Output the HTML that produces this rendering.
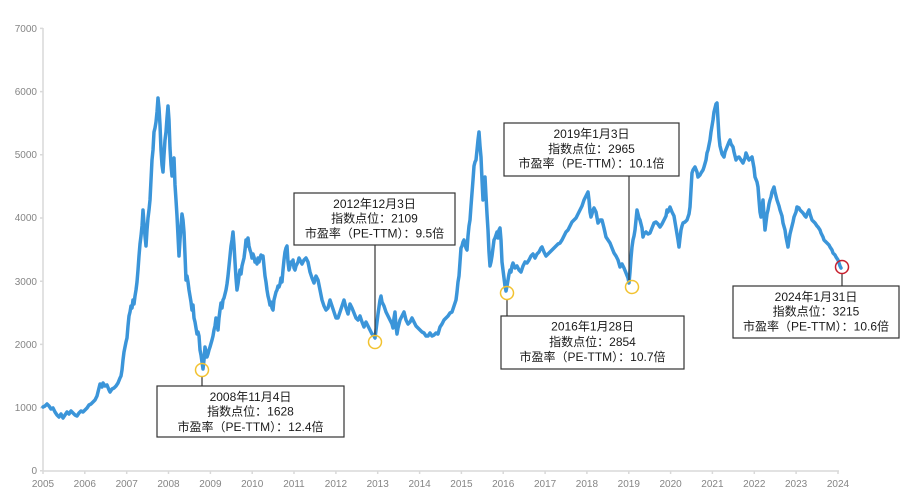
<!DOCTYPE html>
<html><head><meta charset="utf-8">
<style>
html,body{margin:0;padding:0;background:#fff;}
svg{display:block;}
.t{font-family:"Liberation Sans","Noto Sans CJK SC",sans-serif;font-size:10px;fill:#858585;}
.a{font-family:"Liberation Sans","Noto Sans CJK SC",sans-serif;font-size:12px;fill:#1a1a1a;text-anchor:middle;}
</style></head>
<body>
<svg width="918" height="500" viewBox="0 0 918 500" xmlns="http://www.w3.org/2000/svg">
<rect width="918" height="500" fill="#fff"/>
<!-- axes -->
<g stroke="#d9d9d9" stroke-width="1.5" fill="none">
<line x1="43" y1="28" x2="43" y2="471"/>
<line x1="43" y1="471" x2="839" y2="471"/>
<path d="M40 28.4H43M40 91.6H43M40 154.8H43M40 218H43M40 281.2H43M40 344.4H43M40 407.6H43M40 470.8H43"/>
<path d="M43 471V474M84.8 471V474M126.7 471V474M168.5 471V474M210.4 471V474M252.2 471V474M294 471V474M335.9 471V474M377.7 471V474M419.6 471V474M461.4 471V474M503.2 471V474M545.1 471V474M586.9 471V474M628.8 471V474M670.6 471V474M712.4 471V474M754.3 471V474M796.1 471V474M838 471V474"/>
</g>
<g class="t" text-anchor="end">
<text x="37" y="32">7000</text>
<text x="37" y="95">6000</text>
<text x="37" y="158">5000</text>
<text x="37" y="221">4000</text>
<text x="37" y="285">3000</text>
<text x="37" y="348">2000</text>
<text x="37" y="411">1000</text>
<text x="37" y="474">0</text>
</g>
<g class="t" text-anchor="middle">
<text x="43" y="487">2005</text>
<text x="84.8" y="487">2006</text>
<text x="126.7" y="487">2007</text>
<text x="168.5" y="487">2008</text>
<text x="210.4" y="487">2009</text>
<text x="252.2" y="487">2010</text>
<text x="294" y="487">2011</text>
<text x="335.9" y="487">2012</text>
<text x="377.7" y="487">2013</text>
<text x="419.6" y="487">2014</text>
<text x="461.4" y="487">2015</text>
<text x="503.2" y="487">2016</text>
<text x="545.1" y="487">2017</text>
<text x="586.9" y="487">2018</text>
<text x="628.8" y="487">2019</text>
<text x="670.6" y="487">2020</text>
<text x="712.4" y="487">2021</text>
<text x="754.3" y="487">2022</text>
<text x="796.1" y="487">2023</text>
<text x="838" y="487">2024</text>
</g>
<!-- series -->
<polyline fill="none" stroke="#3b95d9" stroke-width="3.5" stroke-linejoin="round" stroke-linecap="round" points="
43,407 45,406 47,404 49,406 51,409 53,408 55,412 57,415 59,417 61,414 63,418 65,415 67,412 69,414 71,411 73,413 75,415 77,416 79,413 81,411 83,412 85,410 87,408 89,405 91,404 93,402 95,400 97,396 99,388 100,384 102,387 103,383 105,386 107,385 109,390 110,392 112,389 114,388 116,386 118,383 120,378 121,376 122,370 123,360 124,352 125,347 126,342 127,338 128,326 129,316 130,312 131,306 132,308 133,300 134,304 135,296 136,290 137,282 138,270 139,256 140,244 141,236 142,226 143,210 144,224 145,236 146,246 147,230 148,218 149,210 150,200 151,180 152,160 153,150 154,132 155,128 156,122 157,112 158,98 159,108 160,125 161,150 162,165 163,172 164,155 165,140 166,132 167,118 168,106 169,120 170,148 171,165 172,176 173,160 174,158 175,185 176,200 177,216 178,236 179,256 180,240 181,226 182,214 183,220 184,232 185,255 186,280 187,276 188,282 189,290 190,296 191,302 192,310 193,305 194,318 195,322 196,328 197,334 198,332 199,336 200,350 201,355 202,362 203,369 204,360 205,347 206,352 207,357 208,354 209,350 210,347 212,340 213,336 214,330 215,326 216,318 217,322 218,330 219,318 220,310 221,303 222,308 223,300 224,298 225,294 226,290 227,284 228,276 229,266 230,256 231,246 232,240 233,232 234,245 235,262 236,278 237,290 238,284 239,276 240,270 241,274 242,266 243,262 244,258 245,250 246,240 247,246 248,238 249,246 250,250 251,253 252,258 253,254 254,257 255,262 256,260 257,264 258,258 259,262 260,258 261,255 262,258 263,256 264,266 265,276 266,282 267,290 268,296 269,300 270,305 271,302 272,308 273,310 274,300 275,296 276,292 277,290 278,286 279,287 280,284 281,278 282,282 283,270 284,260 285,252 286,248 287,246 288,262 289,270 290,266 291,262 292,264 293,260 294,268 295,270 296,266 297,264 298,262 299,258 300,260 302,264 304,260 306,258 308,262 310,272 312,278 314,283 316,276 318,280 320,290 322,300 324,306 326,310 328,308 330,300 332,306 334,312 336,318 338,318 340,312 342,306 344,300 346,308 348,314 350,304 352,308 354,313 356,318 358,320 360,316 362,322 364,327 366,322 368,326 370,330 372,334 374,336 375,338 376,330 377,322 378,314 380,300 381,296 382,302 384,306 386,312 388,316 390,320 392,324 393,328 394,318 395,312 396,326 397,334 398,328 400,320 402,316 404,312 406,320 408,324 410,322 412,318 414,322 416,326 418,328 420,330 422,332 424,333 426,336 428,336 430,333 432,336 434,335 436,333 438,334 440,327 442,324 444,320 446,318 448,316 450,313 452,312 454,306 456,300 457,292 458,282 459,276 460,262 461,248 462,246 463,242 464,240 465,244 466,248 467,250 468,236 469,226 470,220 471,206 472,193 473,180 474,166 475,162 476,160 477,150 478,140 479,132 480,146 481,157 482,180 483,200 484,190 485,177 486,196 487,214 488,230 489,252 490,266 491,262 492,256 493,248 494,240 495,238 496,235 497,232 498,238 499,230 500,228 501,240 502,262 503,270 504,278 505,286 506,291 507,286 508,280 509,274 510,270 511,272 512,266 513,263 515,268 517,266 519,270 521,272 523,266 525,262 527,263 529,260 531,256 533,254 535,258 537,254 539,252 541,248 542,247 544,252 546,256 548,254 550,252 552,250 554,248 556,246 558,244 560,243 562,240 564,236 566,232 568,230 570,226 572,222 574,220 576,218 578,214 580,210 582,206 584,200 586,196 588,192 589,200 590,212 591,217 592,214 593,210 594,208 596,212 598,223 600,220 602,220 604,228 606,237 608,240 610,243 612,248 614,253 616,256 618,260 620,267 622,264 624,268 626,273 628,278 629,283 630,272 631,258 632,247 633,240 634,236 635,230 636,220 637,210 638,214 639,218 640,220 642,228 643,237 644,234 646,232 648,234 650,233 652,228 654,223 656,222 658,224 660,227 662,224 664,220 666,216 667,210 668,212 670,207 672,212 674,216 676,228 678,240 679,247 680,238 681,230 682,226 683,223 685,222 687,220 689,214 690,207 691,190 692,173 693,170 695,167 697,172 698,177 700,175 701,173 703,170 704,167 706,160 707,153 708,150 710,140 711,132 712,126 713,120 714,112 715,108 716,104 717,103 718,120 719,137 720,146 721,150 722,154 724,157 725,152 727,147 729,142 730,140 731,144 733,147 734,152 736,160 737,158 739,157 741,160 743,163 745,158 746,153 748,158 749,160 751,158 752,157 754,168 755,177 757,182 758,187 759,200 760,212 761,217 762,208 763,200 764,216 765,230 766,222 767,214 768,210 769,204 770,200 771,197 772,192 774,187 775,192 777,200 779,206 780,210 782,216 783,223 785,230 786,237 787,242 788,247 789,240 790,234 791,230 793,222 794,217 796,212 797,207 799,208 800,210 802,212 803,213 805,216 806,217 807,214 809,210 810,214 812,220 814,222 815,223 817,226 818,227 820,230 821,233 823,237 824,240 826,242 827,243 829,245 830,247 832,250 833,253 835,255 836,257 838,260 839,263 840,266 841,268"/>
<!-- leader lines -->
<g stroke="#333" stroke-width="1.2">
<line x1="202" y1="377" x2="202" y2="386"/>
<line x1="375" y1="245" x2="375" y2="336"/>
<line x1="629" y1="176" x2="629" y2="280"/>
<line x1="507" y1="300" x2="507" y2="316"/>
<line x1="842" y1="274" x2="842" y2="286"/>
</g>
<!-- circles -->
<g fill="none" stroke-width="1.5">
<circle cx="202" cy="370" r="6.5" stroke="#f2c230"/>
<circle cx="375" cy="342" r="6.5" stroke="#f2c230"/>
<circle cx="507" cy="293" r="6.5" stroke="#f2c230"/>
<circle cx="632" cy="287" r="6.5" stroke="#f2c230"/>
<circle cx="842" cy="267" r="6.5" stroke="#c8202e"/>
</g>
<!-- boxes -->
<g fill="#fff" stroke="#333" stroke-width="1.2">
<rect x="157" y="386" width="187" height="51"/>
<rect x="294" y="193" width="161" height="52"/>
<rect x="504" y="123" width="175" height="53"/>
<rect x="501" y="316" width="183" height="53"/>
<rect x="733" y="286" width="166" height="52"/>
</g>
<g class="a">
<text x="250.5" y="401">2008年11月4日</text>
<text x="250.5" y="415.5">指数点位：1628</text>
<text x="250.5" y="431">市盈率（PE-TTM）：12.4倍</text>
<text x="374.5" y="208">2012年12月3日</text>
<text x="374.5" y="222.5">指数点位：2109</text>
<text x="374.5" y="237.5">市盈率（PE-TTM）：9.5倍</text>
<text x="591.5" y="138">2019年1月3日</text>
<text x="591.5" y="153">指数点位：2965</text>
<text x="591.5" y="167.5">市盈率（PE-TTM）：10.1倍</text>
<text x="592.5" y="330.5">2016年1月28日</text>
<text x="592.5" y="346">指数点位：2854</text>
<text x="592.5" y="361">市盈率（PE-TTM）：10.7倍</text>
<text x="816" y="301">2024年1月31日</text>
<text x="816" y="315.5">指数点位：3215</text>
<text x="816" y="330.5">市盈率（PE-TTM）：10.6倍</text>
</g>
</svg>
</body></html>
